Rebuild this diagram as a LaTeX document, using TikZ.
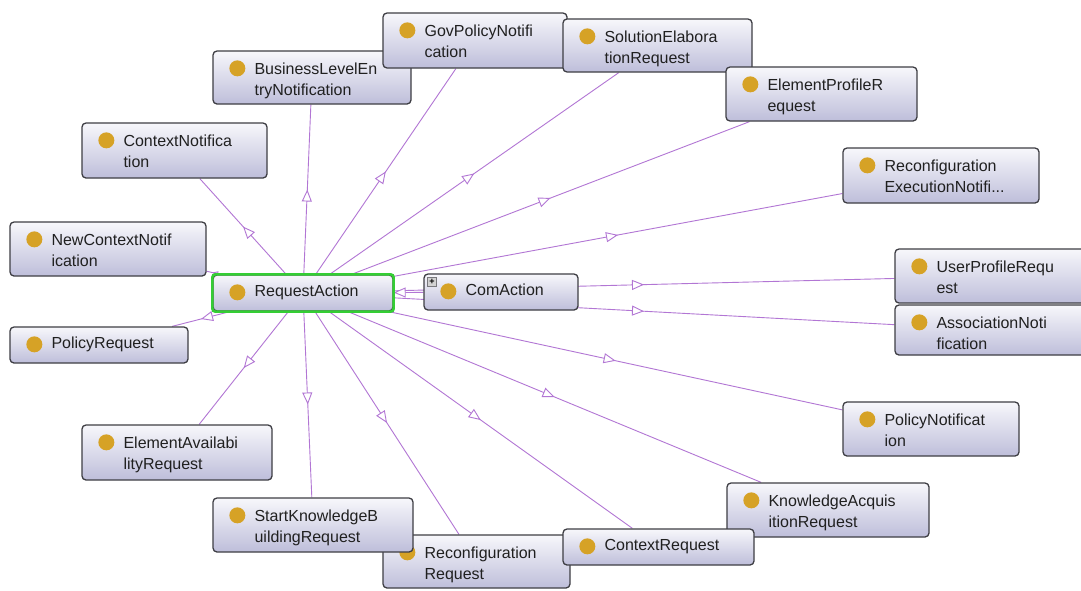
\documentclass[tikz,border=0pt]{standalone}
\usepackage{fontspec}
\setmainfont{Liberation Sans}
\usetikzlibrary{arrows.meta,decorations.markings}
\pgfdeclarelayer{paper}
\pgfdeclarelayer{edges}
\pgfsetlayers{paper,edges,main}

\definecolor{edgec}{RGB}{178,118,212}
\definecolor{dotc}{RGB}{214,162,38}
\definecolor{boxtop}{RGB}{247,247,251}
\definecolor{boxbot}{RGB}{190,190,218}
\definecolor{boxline}{RGB}{62,62,68}
\definecolor{selgreen}{RGB}{52,206,52}
\definecolor{txt}{RGB}{32,32,32}

\tikzset{
  clsbox/.style={shape=rectangle, draw=boxline, line width=1.3pt, rounded corners=4pt,
    top color=boxtop, bottom color=boxbot, inner sep=0pt},
  clslabel/.style={inner sep=0pt, text=txt, font=\fontsize{16}{21}\selectfont},
  isa/.style={draw=edgec, line width=0.9pt, postaction={decorate},
    decoration={markings, mark=at position 0.5 with
      {\arrow[edgec]{Triangle[open, fill=white, length=12pt, width=10pt]}}}},
  isasmall/.style={draw=edgec, line width=0.9pt, postaction={decorate},
    decoration={markings, mark=at position 0.6 with
      {\arrow[edgec]{Triangle[open, fill=white, length=6pt, width=5pt]}}}},
}

% class box: name, left, top, right, bottom, first line, second line
\newcommand\owlclass[7]{%
  \if\relax\detokenize{#7}\relax\def\owlbase{22pt}\else\def\owlbase{24pt}\fi
  \node[clsbox, minimum width={(#4-#2)*1pt}, minimum height={(#5-#3)*1pt}]
    (#1) at ({(#2+#4)/2},{(#3+#5)/2}) {};
  \fill[dotc] ([shift={(25pt,-18pt)}]#1.north west) circle[radius=8pt];
  \node[clslabel, anchor=base west] (#1-t) at ([shift={(42pt,-\owlbase)}]#1.north west)
    {\vtop{\hbox{#6}\hbox{#7}}};
}

\begin{document}
\begin{tikzpicture}[x=1pt, y=-1pt]
  \useasboundingbox (0,0) rectangle (1081,590);
  \clip (0,0) rectangle (1081,590);
  \begin{pgfonlayer}{paper}
    \fill[white] (0,0) rectangle (1081,590);
  \end{pgfonlayer}

  % upper classes
  \owlclass{blen}{213}{51}{411}{104}{BusinessLevelEn}{tryNotification}
  \owlclass{gov}{383}{13}{567}{68}{GovPolicyNotifi}{cation}
  \owlclass{sol}{563}{19}{752}{72}{SolutionElabora}{tionRequest}
  \owlclass{elp}{726}{67}{917}{121}{ElementProfileR}{equest}
  \owlclass{cnot}{82}{123}{267}{178}{ContextNotifica}{tion}
  \owlclass{rexec}{843}{148}{1039}{203}{Reconfiguration}{ExecutionNotifi...}
  \owlclass{ncn}{10}{222}{206}{276}{NewContextNotif}{ication}

  % central row
  \owlclass{ra}{213}{275}{393}{311}{RequestAction}{}
  \draw[selgreen, line width=2.6pt, rounded corners=3pt] (ra.north west) rectangle (ra.south east);
  \owlclass{ca}{424}{274}{578}{310}{ComAction}{}
  \node[draw=boxline!70, fill=gray!35, line width=0.5pt, minimum size=9pt, inner sep=0pt,
        anchor=north west, font=\fontsize{9}{9}\selectfont\bfseries] (ca-plus)
        at ([shift={(4pt,-4pt)}]ca.north west) {+};
  \owlclass{upr}{895}{249}{1095}{303}{UserProfileRequ}{est}
  \owlclass{asn}{895}{305}{1095}{355}{AssociationNoti}{fication}
  \owlclass{preq}{10}{327}{188}{363}{PolicyRequest}{}

  % lower classes
  \owlclass{pnot}{843}{402}{1019}{456}{PolicyNotificat}{ion}
  \owlclass{eav}{82}{425}{272}{480}{ElementAvailabi}{lityRequest}
  \owlclass{kaq}{727}{483}{929}{537}{KnowledgeAcquis}{itionRequest}
  \owlclass{rreq}{383}{535}{570}{588}{Reconfiguration}{Request}
  \owlclass{skb}{213}{498}{413}{552}{StartKnowledgeB}{uildingRequest}
  \owlclass{creq}{563}{529}{754}{565}{ContextRequest}{}

  % subclass links, drawn behind the boxes
  \begin{pgfonlayer}{edges}
    \foreach \c in {blen,gov,sol,elp,rexec,cnot,preq,eav,skb,rreq,creq,kaq,pnot,upr,asn}
      \draw[isa] (ra) -- (\c);
    \draw[isasmall] (ra) -- (ncn);
    \draw[draw=edgec, line width=0.9pt,
          -{Triangle[open, fill=white, length=12pt, width=10pt]}] (ca) -- (ra);
  \end{pgfonlayer}
\end{tikzpicture}
\end{document}
